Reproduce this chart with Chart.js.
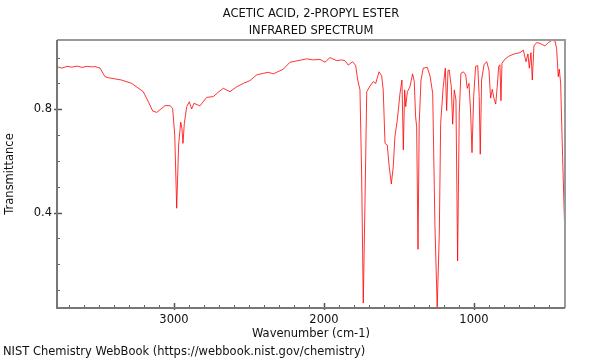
<!DOCTYPE html>
<html><head><meta charset="utf-8">
<script src="https://cdn.jsdelivr.net/npm/chart.js@4"></script>
<style>html,body{margin:0;padding:0;background:#fff;}</style>
</head><body>
<canvas id="c" width="600" height="360"></canvas>
<script>
const titleLines = ['ACETIC ACID, 2-PROPYL ESTER', 'INFRARED SPECTRUM'];
const footerText = 'NIST Chemistry WebBook (https://webbook.nist.gov/chemistry)';
const xAxisTitle = 'Wavenumber (cm-1)';
const yAxisTitle = 'Transmittance';

const wavenumbers = [3780,3747,3713,3680,3647,3613,3580,3547,3527,3493,3460,3438,3349,3282,3205,3171,3142,3115,3087,3060,
3027,3009,2995,2982,2969,2955,2947,2940,2931,2915,2898,2882,2867,2827,2782,2738,2705,2671,2627,2582,
2538,2493,2449,2405,2371,2338,2271,2227,2182,2115,2071,2027,1993,1960,1915,1882,1860,1838,1809,1789,
1775,1760,1749,1738,1727,1715,1693,1671,1655,1633,1615,1605,1593,1578,1565,1551,1538,1527,1511,1493,
1480,1471,1462,1455,1444,1427,1409,1398,1389,1382,1373,1365,1353,1338,1311,1293,1275,1260,1245,1231,
1222,1205,1191,1182,1173,1165,1151,1142,1131,1120,1109,1098,1087,1071,1055,1045,1033,1022,1013,1002,
989,975,965,958,949,933,915,900,889,878,867,855,845,835,827,820,813,793,771,738,
693,671,653,640,631,620,611,600,582,560,527,504,482,460,449,438,431,422,409,393];
const transmittance = [0.965,0.959,0.966,0.963,0.967,0.962,0.966,0.964,0.965,0.959,0.926,0.922,0.913,0.900,0.868,0.829,0.793,0.788,0.801,0.814,
0.814,0.804,0.700,0.417,0.662,0.750,0.726,0.668,0.746,0.810,0.829,0.801,0.823,0.813,0.846,0.849,0.866,0.881,0.868,0.887,
0.900,0.911,0.933,0.939,0.943,0.937,0.955,0.982,0.987,0.995,0.991,0.993,0.982,1.000,0.988,0.991,0.988,0.971,0.984,0.970,
0.913,0.875,0.553,0.050,0.423,0.868,0.890,0.907,0.900,0.945,0.929,0.875,0.668,0.662,0.578,0.511,0.578,0.694,0.759,0.862,
0.913,0.643,0.875,0.810,0.868,0.887,0.937,0.908,0.771,0.732,0.258,0.745,0.913,0.959,0.962,0.929,0.862,0.346,0.031,0.320,
0.745,0.887,0.959,0.795,0.950,0.952,0.887,0.742,0.875,0.836,0.213,0.785,0.939,0.945,0.933,0.881,0.900,0.785,0.632,0.849,
0.966,0.969,0.849,0.626,0.913,0.972,0.984,0.952,0.843,0.877,0.843,0.820,0.887,0.966,0.972,0.833,0.978,0.994,1.004,1.013,
1.019,1.029,0.984,1.014,0.959,1.019,0.913,1.045,1.058,1.055,1.045,1.058,1.066,1.065,1.036,0.926,0.955,0.901,0.617,0.294];

const xTickLabels = [1000, 2000, 3000];
const yTickLabels = [0.4, 0.8];
const xMinorTicks = [400,500,600,700,800,900,1100,1200,1300,1400,1500,1600,1700,1800,1900,2100,2200,2300,2400,2500,2600,2700,2800,2900,3100,3200,3300,3400,3500,3600,3700];
const yMinorTicks = [0.1,0.2,0.3,0.5,0.6,0.7,0.9,1.0];

const FONT = 'DejaVu Sans';
const TXT = '#111';

const frameTicks = {
  id: 'frameTicks',
  afterDraw(chart) {
    const {ctx, chartArea: a, scales: {x, y}} = chart;
    ctx.save();
    ctx.strokeStyle = '#666';
    ctx.lineWidth = 1;
    xMinorTicks.forEach(v => {
      const px = Math.round(x.getPixelForValue(v)) + 0.5;
      ctx.beginPath(); ctx.moveTo(px, a.bottom); ctx.lineTo(px, a.bottom - 3); ctx.stroke();
    });
    yMinorTicks.forEach(v => {
      const py = Math.round(y.getPixelForValue(v)) + 0.5;
      ctx.beginPath(); ctx.moveTo(a.left, py); ctx.lineTo(a.left + 3, py); ctx.stroke();
    });
    ctx.strokeStyle = '#555';
    ctx.lineWidth = 1.5;
    xTickLabels.forEach(v => {
      const px = Math.round(x.getPixelForValue(v)) + 0.5;
      ctx.beginPath(); ctx.moveTo(px, a.bottom + 2); ctx.lineTo(px, a.bottom - 5); ctx.stroke();
    });
    yTickLabels.forEach(v => {
      const py = Math.round(y.getPixelForValue(v)) + 0.5;
      ctx.beginPath(); ctx.moveTo(a.left - 3, py); ctx.lineTo(a.left + 5, py); ctx.stroke();
    });
    ctx.lineWidth = 2;
    ctx.strokeStyle = '#9a9a9a';
    ctx.beginPath(); ctx.moveTo(a.left, a.top); ctx.lineTo(a.right, a.top); ctx.lineTo(a.right, a.bottom); ctx.stroke();
    ctx.strokeStyle = '#777';
    ctx.beginPath(); ctx.moveTo(a.left, a.top); ctx.lineTo(a.left, a.bottom); ctx.lineTo(a.right, a.bottom); ctx.stroke();
    ctx.restore();
  }
};

new Chart(document.getElementById('c'), {
  type: 'line',
  data: {
    datasets: [{
      data: wavenumbers.map((w, i) => ({x: w, y: transmittance[i]})),
      borderColor: 'rgba(255,0,0,0.8)',
      borderWidth: 1,
      pointRadius: 0,
      tension: 0,
      fill: false
    }]
  },
  options: {
    responsive: false,
    animation: false,
    devicePixelRatio: 1,
    layout: {padding: {left: 3, right: 35, top: 0, bottom: 0}},
    plugins: {
      legend: {display: false},
      tooltip: {enabled: false},
      title: {
        display: true, text: titleLines, fullSize: false, color: TXT,
        font: {family: FONT, size: 11.5, weight: 'normal', lineHeight: '17px'},
        padding: {top: 5.5, bottom: 0.5}
      },
      subtitle: {
        display: true, text: footerText, position: 'bottom', align: 'start', fullSize: true, color: TXT,
        font: {family: FONT, size: 11.5, weight: 'normal', lineHeight: '16px'},
        padding: {top: 0, bottom: 0}
      }
    },
    scales: {
      x: {
        type: 'linear', reverse: true, min: 393, max: 3780,
        afterBuildTicks: s => { s.ticks = xTickLabels.map(v => ({value: v})); },
        afterFit: s => { s.height = 36; },
        ticks: {color: TXT, font: {family: FONT, size: 11.5}, padding: 5, maxRotation: 0, autoSkip: false, callback: v => String(v)},
        grid: {display: false, drawTicks: false},
        border: {display: false},
        title: {display: true, text: xAxisTitle, color: TXT, font: {family: FONT, size: 11.5}, padding: {top: 0, bottom: 3}}
      },
      y: {
        type: 'linear', min: 0.031, max: 1.068,
        afterBuildTicks: s => { s.ticks = yTickLabels.map(v => ({value: v})); },
        afterFit: s => { s.width = 54; },
        ticks: {color: TXT, font: {family: FONT, size: 11.5}, padding: 5, callback: v => v.toFixed(1)},
        grid: {display: false, drawTicks: false},
        border: {display: false},
        title: {display: true, text: yAxisTitle, color: TXT, font: {family: FONT, size: 11.5}, padding: {top: 0, bottom: 0}}
      }
    }
  },
  plugins: [frameTicks]
});
</script>
</body></html>
